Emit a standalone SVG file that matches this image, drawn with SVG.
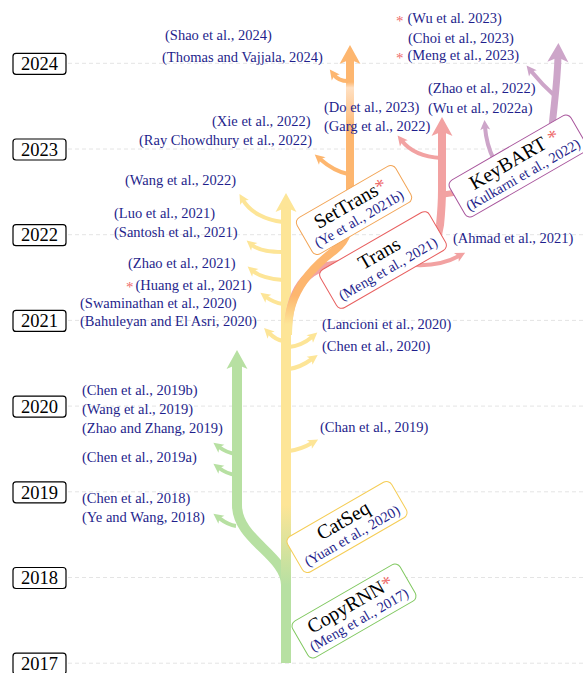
<svg xmlns="http://www.w3.org/2000/svg" width="583" height="673" viewBox="0 0 583 673">
<defs>
<style>
.grid{stroke:#e4e4e4;stroke-width:1;stroke-dasharray:4 3;fill:none}
.yr rect{fill:#fff;stroke:#000;stroke-width:1.2}
.yr text{font-family:'Liberation Serif','Times New Roman',serif;font-size:18.5px;text-anchor:middle;fill:#000}
.lbl{font-family:'Liberation Serif','Times New Roman',serif;font-size:14.5px;fill:#1f1f8c}
.lbl .st{font-size:15px;fill:#ee6b6b}
.t{font-family:'Liberation Serif','Times New Roman',serif;font-size:20px;fill:#000;text-anchor:middle}
.t tspan{fill:#ee6b6b}
.s{font-family:'Liberation Serif','Times New Roman',serif;font-size:14.5px;fill:#1f1f8c;text-anchor:middle}
.box{fill:#fff;stroke-width:1}
.br{fill:none;stroke-width:4}
.tk{fill:none}
.gr{stroke:#b7e0a2}
.ye{stroke:#fde597}
.or{stroke:#fdb66f}
.pk{stroke:#f2a2a2}
.pu{stroke:#cda5c9}
</style>
<marker id="bG" markerUnits="userSpaceOnUse" orient="auto" refX="5" refY="0" markerWidth="30" markerHeight="30" overflow="visible"><path d="M19,0 L0,-10.5 L4.5,0 L0,10.5 Z" fill="#b7e0a2"/></marker>
<marker id="bY" markerUnits="userSpaceOnUse" orient="auto" refX="5" refY="0" markerWidth="30" markerHeight="30" overflow="visible"><path d="M19,0 L0,-10.5 L4.5,0 L0,10.5 Z" fill="#fde597"/></marker>
<marker id="bO" markerUnits="userSpaceOnUse" orient="auto" refX="5" refY="0" markerWidth="30" markerHeight="30" overflow="visible"><path d="M19,0 L0,-10.5 L4.5,0 L0,10.5 Z" fill="#fdb66f"/></marker>
<marker id="bP" markerUnits="userSpaceOnUse" orient="auto" refX="5" refY="0" markerWidth="30" markerHeight="30" overflow="visible"><path d="M19,0 L0,-10.5 L4.5,0 L0,10.5 Z" fill="#f2a2a2"/></marker>
<marker id="bU" markerUnits="userSpaceOnUse" orient="auto" refX="5" refY="0" markerWidth="30" markerHeight="30" overflow="visible"><path d="M19,0 L0,-10.5 L4.5,0 L0,10.5 Z" fill="#cda5c9"/></marker>
<marker id="sG" markerUnits="userSpaceOnUse" orient="auto" refX="3" refY="0" markerWidth="20" markerHeight="20" overflow="visible"><path d="M10,0 L0,-5 L2.5,0 L0,5 Z" fill="#b7e0a2"/></marker>
<marker id="sY" markerUnits="userSpaceOnUse" orient="auto" refX="3" refY="0" markerWidth="20" markerHeight="20" overflow="visible"><path d="M10,0 L0,-5 L2.5,0 L0,5 Z" fill="#fde597"/></marker>
<marker id="sO" markerUnits="userSpaceOnUse" orient="auto" refX="3" refY="0" markerWidth="20" markerHeight="20" overflow="visible"><path d="M10,0 L0,-5 L2.5,0 L0,5 Z" fill="#fdb66f"/></marker>
<marker id="sP" markerUnits="userSpaceOnUse" orient="auto" refX="3" refY="0" markerWidth="20" markerHeight="20" overflow="visible"><path d="M10,0 L0,-5 L2.5,0 L0,5 Z" fill="#f2a2a2"/></marker>
<marker id="sU" markerUnits="userSpaceOnUse" orient="auto" refX="3" refY="0" markerWidth="20" markerHeight="20" overflow="visible"><path d="M10,0 L0,-5 L2.5,0 L0,5 Z" fill="#cda5c9"/></marker>
<linearGradient id="gY" gradientUnits="userSpaceOnUse" x1="0" y1="585" x2="0" y2="505"><stop offset="0" stop-color="#b7e0a2"/><stop offset="1" stop-color="#fde597"/></linearGradient>
<linearGradient id="gO" gradientUnits="userSpaceOnUse" x1="0" y1="330" x2="0" y2="45"><stop offset="0.02" stop-color="#fde597"/><stop offset="0.12" stop-color="#fdb66f"/><stop offset="0.70" stop-color="#fdb66f"/><stop offset="0.85" stop-color="#ffe0c2"/><stop offset="0.87" stop-color="#fdb66f"/></linearGradient>
<linearGradient id="gP" gradientUnits="userSpaceOnUse" x1="0" y1="330" x2="0" y2="295"><stop offset="0" stop-color="#fde597"/><stop offset="1" stop-color="#f2a2a2"/></linearGradient>
</defs>
<rect width="583" height="673" fill="#fff"/>
<g id="grid">
<line class="grid" x1="68" y1="63.3" x2="583" y2="63.3"/>
<line class="grid" x1="68" y1="149" x2="583" y2="149"/>
<line class="grid" x1="68" y1="234.7" x2="583" y2="234.7"/>
<line class="grid" x1="68" y1="320.4" x2="583" y2="320.4"/>
<line class="grid" x1="68" y1="406.1" x2="583" y2="406.1"/>
<line class="grid" x1="68" y1="491.8" x2="583" y2="491.8"/>
<line class="grid" x1="68" y1="577.5" x2="583" y2="577.5"/>
<line class="grid" x1="68" y1="663.2" x2="583" y2="663.2"/>
</g>
<g id="years" class="yr">
<g id="y2024"><rect x="13" y="53.3" width="53" height="21" rx="3"/><text x="39.5" y="70">2024</text></g>
<g id="y2023"><rect x="13" y="139" width="53" height="21" rx="3"/><text x="39.5" y="155.7">2023</text></g>
<g id="y2022"><rect x="13" y="224.7" width="53" height="21" rx="3"/><text x="39.5" y="241.4">2022</text></g>
<g id="y2021"><rect x="13" y="310.4" width="53" height="21" rx="3"/><text x="39.5" y="327.1">2021</text></g>
<g id="y2020"><rect x="13" y="396.1" width="53" height="21" rx="3"/><text x="39.5" y="412.8">2020</text></g>
<g id="y2019"><rect x="13" y="481.8" width="53" height="21" rx="3"/><text x="39.5" y="498.5">2019</text></g>
<g id="y2018"><rect x="13" y="567.5" width="53" height="21" rx="3"/><text x="39.5" y="584.2">2018</text></g>
<g id="y2017"><rect x="13" y="653.2" width="53" height="21" rx="3"/><text x="39.5" y="669.9">2017</text></g>
</g>
<g id="connectors">
<path class="tk gr" stroke-width="10" d="M286,663 L286,585 C286,555 237,540 237,505 L237,364" marker-end="url(#bG)"/>
<path class="br gr" d="M236,454 C228,453 223,450 219,447" marker-end="url(#sG)"/>
<path class="br gr" d="M236,475 C228,474 223,471 219,468" marker-end="url(#sG)"/>
<path class="br gr" d="M236,526 C228,525 223,521 219,518" marker-end="url(#sG)"/>
<path class="tk" stroke="url(#gY)" stroke-width="10" d="M286,592 L286,207" marker-end="url(#bY)"/>
<path class="br ye" d="M283,222 C265,220 250,212 243,200" marker-end="url(#sY)"/>
<path class="br ye" d="M283,252 C270,252 258,250 252,245" marker-end="url(#sY)"/>
<path class="br ye" d="M283,280 C270,279 259,276 253,271" marker-end="url(#sY)"/>
<path class="br ye" d="M283,304 C276,303 270,300 266,297" marker-end="url(#sY)"/>
<path class="br ye" d="M283,341 C277,340 272,336 269,333" marker-end="url(#sY)"/>
<path class="br ye" d="M289,347 C298,346 305,343 312,337" marker-end="url(#sY)"/>
<path class="br ye" d="M289,369 C298,368 305,364 312,359" marker-end="url(#sY)"/>
<path class="br ye" d="M289,451 C298,450 305,447 312,443" marker-end="url(#sY)"/>
<path class="tk" stroke="url(#gP)" stroke-width="8" d="M288,335 C288,292 305,266 340,264 L395,262 C425,260 437,248 440,225 C441,215 442,205 442,190 L442,131" marker-end="url(#bP)"/>
<path class="br pk" d="M441,158 C424,157 410,151 402,141" marker-end="url(#sP)"/>
<path class="br pk" d="M415,265 C435,266 448,262 459,256" marker-end="url(#sP)"/>
<path class="tk pk" stroke-width="6" d="M440,195 L460,192"/>
<path class="tk" stroke="url(#gO)" stroke-width="8" d="M288,330 C288,290 315,265 335,250 C348,240 350,228 350,205 L350,59" marker-end="url(#bO)"/>
<path class="br or" d="M348,81 C342,81 337,79 334,75" marker-end="url(#sO)"/>
<path class="br or" d="M348,174 C338,172 328,166 320,159" marker-end="url(#sO)"/>
<path class="tk pu" stroke-width="7" d="M551,140 C553,110 557,90 558,57" marker-end="url(#bU)"/>
<path class="br pu" d="M556,97 C548,90 540,82 531,71" marker-end="url(#sU)"/>
<path class="br pu" d="M494,160 C489,150 486,140 485,127" marker-end="url(#sU)"/>
</g>
<g id="copyrnn" transform="translate(354,611) rotate(-30)">
<rect class="box" x="-62" y="-21" width="124" height="42" rx="6" stroke="#80c860"/>
<text class="t" x="0" y="-1">CopyRNN<tspan>*</tspan></text>
<text class="s" x="0" y="15">(Meng et al., 2017)</text>
</g>
<g id="catseq" transform="translate(347,527) rotate(-30)">
<rect class="box" x="-60" y="-20.5" width="120" height="41" rx="6" stroke="#f5cd55"/>
<text class="t" x="0" y="-1">CatSeq</text>
<text class="s" x="0" y="15">(Yuan et al., 2020)</text>
</g>
<g id="settrans" transform="translate(354,210) rotate(-30)">
<rect class="box" x="-57" y="-21" width="114" height="42" rx="6" stroke="#f2a455"/>
<text class="t" x="0" y="-1">SetTrans<tspan>*</tspan></text>
<text class="s" x="0" y="15">(Ye et al., 2021b)</text>
</g>
<g id="trans" transform="translate(383,260) rotate(-30)">
<rect class="box" x="-63" y="-22" width="126" height="44" rx="6" stroke="#e86060"/>
<text class="t" x="0" y="-1">Trans</text>
<text class="s" x="0" y="15">(Meng et al., 2021)</text>
</g>
<g id="keybart" transform="translate(518,166) rotate(-30)">
<rect class="box" x="-70" y="-21" width="140" height="42" rx="6" stroke="#a8559c"/>
<text class="t" x="0" y="-1">KeyBART<tspan> *</tspan></text>
<text class="s" x="0" y="15">(Kulkarni et al., 2022)</text>
</g>
<g id="labels">
<text class="lbl" x="165" y="40">(Shao et al., 2024)</text>
<text class="lbl" x="162" y="62">(Thomas and Vajjala, 2024)</text>
<text class="lbl" x="212" y="126">(Xie et al., 2022)</text>
<text class="lbl" x="139" y="145">(Ray Chowdhury et al., 2022)</text>
<text class="lbl" x="125" y="185">(Wang et al., 2022)</text>
<text class="lbl" x="114" y="218">(Luo et al., 2021)</text>
<text class="lbl" x="114" y="237">(Santosh et al., 2021)</text>
<text class="lbl" x="128" y="268">(Zhao et al., 2021)</text>
<text class="lbl" x="126" y="290"><tspan class="st" dy="2">*</tspan><tspan dx="2" dy="-2">(Huang et al., 2021)</tspan></text>
<text class="lbl" x="80" y="308">(Swaminathan et al., 2020)</text>
<text class="lbl" x="80" y="326">(Bahuleyan and El Asri, 2020)</text>
<text class="lbl" x="82" y="395">(Chen et al., 2019b)</text>
<text class="lbl" x="82" y="414">(Wang et al., 2019)</text>
<text class="lbl" x="82" y="433">(Zhao and Zhang, 2019)</text>
<text class="lbl" x="82" y="462">(Chen et al., 2019a)</text>
<text class="lbl" x="82" y="503">(Chen et al., 2018)</text>
<text class="lbl" x="82" y="522">(Ye and Wang, 2018)</text>
<text class="lbl" x="322" y="329">(Lancioni et al., 2020)</text>
<text class="lbl" x="322" y="351">(Chen et al., 2020)</text>
<text class="lbl" x="320" y="432">(Chan et al., 2019)</text>
<text class="lbl" x="453" y="243">(Ahmad et al., 2021)</text>
<text class="lbl" x="324" y="112">(Do et al., 2023)</text>
<text class="lbl" x="324" y="131">(Garg et al., 2022)</text>
<text class="lbl" x="428" y="93">(Zhao et al., 2022)</text>
<text class="lbl" x="428" y="113">(Wu et al., 2022a)</text>
<text class="lbl" x="396" y="23"><tspan class="st" dy="3">*</tspan><tspan dx="4" dy="-3">(Wu et al. 2023)</tspan></text>
<text class="lbl" x="408" y="43">(Choi et al., 2023)</text>
<text class="lbl" x="396" y="60"><tspan class="st" dy="3">*</tspan><tspan dx="4" dy="-3">(Meng et al., 2023)</tspan></text>
</g>
</svg>
